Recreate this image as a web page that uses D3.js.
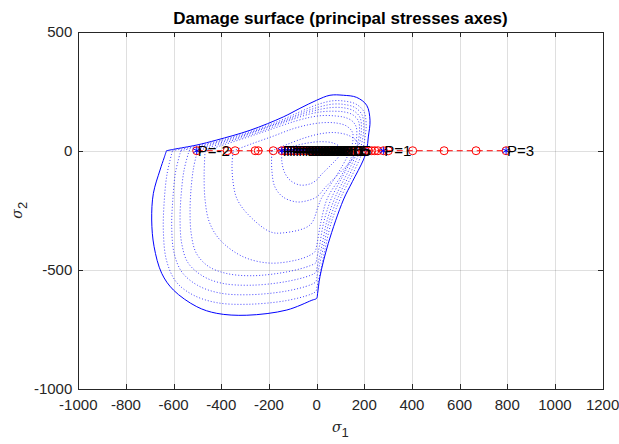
<!DOCTYPE html>
<html>
<head>
<meta charset="utf-8">
<script src="https://cdn.jsdelivr.net/npm/d3@7"></script>
<style>
  body { margin: 0; background: #fff; }
  svg text { font-family: "Liberation Sans", Arial, Helvetica, sans-serif; }
  .tick-label { fill: #262626; font-size: 15px; }
  .grid line { stroke: #262626; stroke-opacity: 0.15; stroke-width: 1; shape-rendering: crispEdges; }
</style>
</head>
<body>
<div id="chart"></div>
<script>
// axis ticks
var xTicks = [-1000, -800, -600, -400, -200, 0, 200, 400, 600, 800, 1000, 1200];
var yTicks = [-1000, -500, 0, 500];

// outer damage surface (solid), [sigma1, sigma2]
var outerSurface = [[-630,0],[-600,6],[-503,24],[-419,45],[-279,86],[-140,142],[-70,178],[0,212],[56,233],[112,233],[168,224],[210,191],[224,128],[217,58],[210,3],[196,-39],[150,-130],[112,-207],[49,-389],[14,-529],[4,-600],[0,-620],[-20,-628],[-125,-669],[-293,-691],[-419,-683],[-503,-655],[-601,-585],[-650,-515],[-682,-403],[-692,-291],[-685,-179],[-657,-81],[-640,-30],[-630,0]];

// intermediate surfaces (dotted), outer to inner
var surface1 = [[-605,0],[-500,20],[-400,44],[-280,80],[-140,132],[-60,168],[10,196],[70,210],[120,208],[165,196],[198,165],[208,110],[202,50],[190,-10],[160,-80],[100,-200],[62,-300],[38,-400],[18,-500],[2,-570],[-3,-590],[-25,-603],[-130,-630],[-290,-645],[-420,-638],[-520,-605],[-590,-550],[-630,-460],[-643,-340],[-640,-220],[-628,-100],[-605,0]];
var surface2 = [[-570,0],[-470,22],[-370,48],[-260,82],[-130,130],[-50,164],[15,185],[70,196],[118,194],[160,182],[190,152],[198,100],[192,45],[178,-10],[148,-80],[88,-200],[52,-300],[30,-400],[12,-480],[0,-535],[-3,-550],[-25,-563],[-130,-590],[-290,-605],[-410,-597],[-500,-565],[-565,-510],[-598,-430],[-608,-320],[-603,-200],[-592,-90],[-570,0]];
var surface3 = [[-535,0],[-440,24],[-340,52],[-240,86],[-120,130],[-40,160],[20,175],[72,182],[115,180],[155,168],[182,140],[188,92],[182,40],[168,-10],[136,-80],[76,-200],[42,-300],[22,-400],[2,-490],[-3,-510],[-25,-523],[-130,-550],[-280,-565],[-400,-556],[-480,-525],[-540,-470],[-566,-390],[-573,-290],[-568,-180],[-556,-80],[-535,0]];
var surface4 = [[-500,0],[-410,26],[-310,56],[-210,90],[-110,128],[-30,154],[25,164],[75,166],[115,163],[150,152],[175,126],[180,82],[173,32],[158,-15],[124,-80],[62,-200],[30,-300],[12,-400],[0,-455],[-3,-470],[-25,-482],[-120,-508],[-270,-525],[-380,-515],[-455,-485],[-505,-430],[-526,-350],[-531,-250],[-526,-150],[-516,-70],[-500,0]];
var surface5 = [[-468,0],[-380,28],[-280,60],[-180,94],[-90,124],[-20,142],[30,148],[80,146],[118,140],[148,126],[166,100],[168,60],[160,15],[140,-40],[100,-110],[45,-200],[18,-300],[0,-400],[-7,-424],[-30,-440],[-84,-459],[-196,-472],[-309,-445],[-405,-375],[-450,-300],[-468,-207],[-472,-100],[-468,0]];
var surface6 = [[-350,0],[-270,30],[-180,62],[-100,92],[-30,110],[30,118],[85,116],[125,104],[150,78],[152,40],[140,0],[110,-60],[60,-140],[20,-200],[6,-235],[-28,-312],[-141,-345],[-196,-340],[-293,-262],[-335,-200],[-350,-136],[-355,-60],[-350,0]];
var surface7 = [[-188,0],[-120,28],[-50,54],[20,72],[80,76],[135,64],[168,40],[175,10],[155,-30],[100,-90],[40,-150],[0,-194],[-40,-210],[-84,-215],[-140,-195],[-175,-152],[-188,-80],[-188,0]];
var surface8 = [[-146,0],[-100,18],[-40,32],[20,38],[70,32],[100,12],[95,-20],[60,-60],[20,-100],[0,-123],[-30,-140],[-70,-144],[-110,-125],[-135,-90],[-146,-45],[-146,0]];

// loading path points along sigma2 = 0
var pathS1 = [-503,-375,-342,-258,-245,-182,-146,-133,-120,-107,-94,-81,-68,-55,-42,-29,-16,-3,10,23,36,49,62,75,88,101,114,127,140,153,166,179,192,205,218,231,244,257,280,301,403,535,669,795];
var pathS2 = [0,0,0,0,0,0,0,0,0,0,0,0,0,0,0,0,0,0,0,0,0,0,0,0,0,0,0,0,0,0,0,0,0,0,0,0,0,0,0,0,0,0,0,0];
var pathLabels = ["P=-2","","","","","","P=-0.6","P=-0.55","P=-0.5","P=-0.45","P=-0.4","P=-0.35","P=-0.3","P=-0.25","P=-0.2","P=-0.15","P=-0.1","P=-0.05","P=0","P=0.05","P=0.1","","","","","","","","","","","","","","","","","","P=1","","","","","P=3"];

var W = 619, H = 444;
var margin = {left: 78.3, right: 602.6, top: 31.7, bottom: 388.8};

var svg = d3.select("#chart").append("svg")
    .attr("width", W)
    .attr("height", H);

var x = d3.scaleLinear().domain([-1000, 1200]).range([margin.left, margin.right]);
var y = d3.scaleLinear().domain([-1000, 500]).range([margin.bottom, margin.top]);

svg.append("clipPath").attr("id", "plotClip")
    .append("rect")
    .attr("x", margin.left).attr("y", margin.top)
    .attr("width", margin.right - margin.left)
    .attr("height", margin.bottom - margin.top);

//grid
var grid = svg.append("g").attr("class", "grid");
grid.selectAll(".gx").data(xTicks.slice(1, -1)).enter().append("line")
    .attr("x1", function(d){ return Math.round(x(d)) + 0.5; })
    .attr("x2", function(d){ return Math.round(x(d)) + 0.5; })
    .attr("y1", margin.top).attr("y2", margin.bottom);
grid.selectAll(".gy").data(yTicks.slice(1, -1)).enter().append("line")
    .attr("y1", function(d){ return Math.round(y(d)) + 0.5; })
    .attr("y2", function(d){ return Math.round(y(d)) + 0.5; })
    .attr("x1", margin.left).attr("x2", margin.right);

var plot = svg.append("g").attr("clip-path", "url(#plotClip)");

var line = d3.line()
    .x(function(d){ return x(d[0]); })
    .y(function(d){ return y(d[1]); })
    .curve(d3.curveCatmullRom.alpha(0.5));

var dottedSurfaces = [surface1, surface2, surface3, surface4, surface5, surface6, surface7, surface8];

plot.selectAll(".dotted").data(dottedSurfaces).enter().append("path")
    .attr("class", "dotted")
    .attr("d", line)
    .attr("fill", "none")
    .attr("stroke", "#0000ff")
    .attr("stroke-opacity", 0.75)
    .attr("stroke-width", 1)
    .attr("stroke-dasharray", "1,2");

plot.append("path")
    .datum(outerSurface)
    .attr("d", line)
    .attr("fill", "none")
    .attr("stroke", "#0000ff")
    .attr("stroke-width", 1);

// loading path
var pts = pathS1.map(function(d, i){ return {s1: d, s2: pathS2[i], label: pathLabels[i]}; });

plot.append("path")
    .datum(pts)
    .attr("d", d3.line().x(function(d){ return x(d.s1); }).y(function(d){ return y(d.s2); }))
    .attr("fill", "none")
    .attr("stroke", "#ff0000")
    .attr("stroke-width", 1)
    .attr("stroke-dasharray", "6,4");

plot.selectAll(".pt").data(pts).enter().append("circle")
    .attr("class", "pt")
    .attr("cx", function(d){ return x(d.s1); })
    .attr("cy", function(d){ return y(d.s2); })
    .attr("r", 4)
    .attr("fill", "none")
    .attr("stroke", "#ff0000")
    .attr("stroke-width", 1);

var labelled = pts.filter(function(d){ return d.label !== ""; });

plot.selectAll(".star").data(labelled).enter().append("path")
    .attr("class", "star")
    .attr("transform", function(d){ return "translate(" + x(d.s1) + "," + y(d.s2) + ")"; })
    .attr("d", d3.symbol().type(d3.symbolAsterisk).size(40))
    .attr("fill", "none")
    .attr("stroke", "#0000ff")
    .attr("stroke-width", 1);

plot.selectAll(".plabel").data(labelled).enter().append("text")
    .attr("class", "plabel")
    .attr("x", function(d){ return x(d.s1) + 1; })
    .attr("y", function(d){ return y(d.s2); })
    .attr("dy", "0.35em")
    .attr("font-size", "15px")
    .attr("fill", "#000")
    .text(function(d){ return d.label; });

// axes box + ticks
var axis = svg.append("g");
axis.append("rect")
    .attr("x", Math.round(margin.left) + 0.5).attr("y", Math.round(margin.top) + 0.5)
    .attr("width", Math.round(margin.right) - Math.round(margin.left))
    .attr("height", Math.round(margin.bottom) - Math.round(margin.top))
    .attr("fill", "none")
    .attr("stroke", "#262626")
    .attr("stroke-width", 1);

var tickLen = 5;
xTicks.forEach(function(t){
    var px = Math.round(x(t)) + 0.5;
    axis.append("line").attr("x1", px).attr("x2", px)
        .attr("y1", Math.round(margin.bottom)).attr("y2", Math.round(margin.bottom) - tickLen)
        .attr("stroke", "#262626");
    axis.append("line").attr("x1", px).attr("x2", px)
        .attr("y1", Math.round(margin.top)).attr("y2", Math.round(margin.top) + tickLen)
        .attr("stroke", "#262626");
    axis.append("text").attr("class", "tick-label")
        .attr("x", x(t)).attr("y", margin.bottom + 21)
        .attr("text-anchor", "middle")
        .text(t);
});
yTicks.forEach(function(t){
    var py = Math.round(y(t)) + 0.5;
    axis.append("line").attr("y1", py).attr("y2", py)
        .attr("x1", Math.round(margin.left)).attr("x2", Math.round(margin.left) + tickLen)
        .attr("stroke", "#262626");
    axis.append("line").attr("y1", py).attr("y2", py)
        .attr("x1", Math.round(margin.right)).attr("x2", Math.round(margin.right) - tickLen)
        .attr("stroke", "#262626");
    axis.append("text").attr("class", "tick-label")
        .attr("x", margin.left - 6).attr("y", y(t))
        .attr("dy", "0.35em")
        .attr("text-anchor", "end")
        .text(t);
});

// title and axis labels
svg.append("text")
    .attr("x", (margin.left + margin.right) / 2).attr("y", 24)
    .attr("text-anchor", "middle")
    .attr("font-size", "17px")
    .attr("font-weight", "bold")
    .attr("fill", "#000")
    .text("Damage surface (principal stresses axes)");

var xl = svg.append("text")
    .attr("x", (margin.left + margin.right) / 2).attr("y", 432)
    .attr("text-anchor", "middle")
    .attr("font-size", "16px")
    .attr("fill", "#262626");
xl.append("tspan").attr("font-family", "DejaVu Serif").attr("font-style", "italic").attr("font-size", "14px").text("σ");
xl.append("tspan").attr("dy", 5).attr("font-size", "13px").text("1");

var yl = svg.append("text")
    .attr("transform", "translate(22," + ((margin.top + margin.bottom) / 2) + ") rotate(-90)")
    .attr("text-anchor", "middle")
    .attr("font-size", "16px")
    .attr("fill", "#262626");
yl.append("tspan").attr("font-family", "DejaVu Serif").attr("font-style", "italic").attr("font-size", "14px").text("σ");
yl.append("tspan").attr("dy", 5).attr("font-size", "13px").text("2");
</script>
</body>
</html>
